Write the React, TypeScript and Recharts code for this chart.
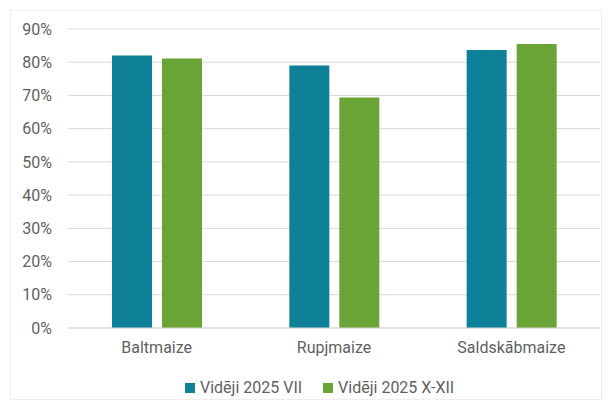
import { BarChart, Bar, XAxis, YAxis, CartesianGrid, Legend } from "recharts"

const categories = ["Baltmaize", "Rupjmaize", "Saldskābmaize"]
const seriesNames = ["Vidēji 2025 VII", "Vidēji 2025 X-XII"]
const julValues = [82, 79, 83.7]
const q4Values = [81.1, 69.4, 85.5]
const yTicks = [0, 10, 20, 30, 40, 50, 60, 70, 80, 90]

const colors = ["#0e8198", "#6aa336"]
const textColor = "#5f5f5f"
const font = "Roboto, 'Noto Sans', sans-serif"

const data = categories.map((name, i) => ({
  name,
  jul: julValues[i],
  q4: q4Values[i],
}))

// legend drawn by hand so spacing matches the Excel-style one
const renderLegend = ({ payload }: any) => (
  <div style={{ display: "flex", alignItems: "center", fontSize: 16, fontFamily: font, color: textColor }}>
    {(payload || []).map((item: any, i: number) => (
      <div key={item.value} style={{ display: "flex", alignItems: "center", marginRight: i === 0 ? 21 : 0 }}>
        <span style={{ display: "inline-block", width: 10, height: 10, background: item.color, marginRight: 5 }} />
        <span>{item.value}</span>
      </div>
    ))}
  </div>
)

export default function App() {
  return (
    <div style={{ position: "relative", width: 612, height: 400, fontFamily: font }}>
      <style>{"body{margin:0}"}</style>
      <div
        style={{
          position: "absolute",
          left: 10,
          top: 10,
          width: 590,
          height: 388,
          border: "1px solid #eeeeee",
          pointerEvents: "none",
        }}
      />
      <BarChart
        width={612}
        height={400}
        data={data}
        margin={{ top: 29, right: 12, left: 0, bottom: 42 }}
        barSize={40}
        barGap={10}
      >
        <CartesianGrid vertical={false} stroke="#d9d9d9" />
        <XAxis
          dataKey="name"
          height={30}
          tickLine={false}
          tickSize={0}
          tickMargin={14}
          axisLine={{ stroke: "#d9d9d9" }}
          tick={{ fill: textColor, fontSize: 16, fontFamily: font }}
        />
        <YAxis
          width={68}
          domain={[0, 90]}
          ticks={yTicks}
          interval={0}
          tickLine={false}
          tickSize={0}
          tickMargin={16}
          axisLine={false}
          tickFormatter={(v) => `${v}%`}
          tick={{ fill: textColor, fontSize: 16, fontFamily: font }}
        />
        <Legend
          layout="horizontal"
          verticalAlign="middle"
          align="center"
          content={renderLegend}
          wrapperStyle={{ top: 378, left: 185, width: 320 }}
        />
        <Bar dataKey="jul" name={seriesNames[0]} fill={colors[0]} isAnimationActive={false} />
        <Bar dataKey="q4" name={seriesNames[1]} fill={colors[1]} isAnimationActive={false} />
      </BarChart>
    </div>
  )
}
